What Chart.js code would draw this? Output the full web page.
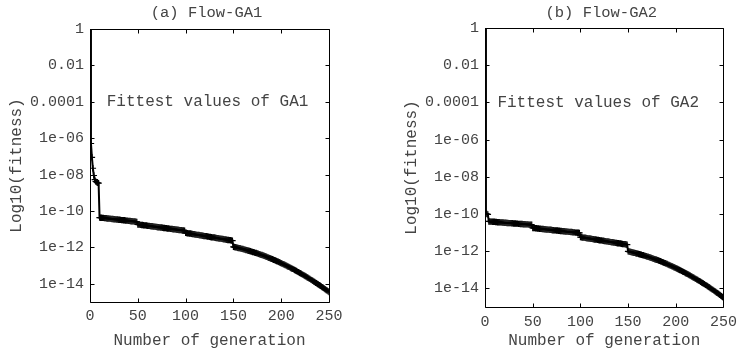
<!DOCTYPE html>
<html>
<head>
<meta charset="utf-8">
<script src="https://cdn.jsdelivr.net/npm/chart.js@4.4.1/dist/chart.umd.min.js"></script>
<style>
  html, body { margin: 0; padding: 0; background: #ffffff; width: 743px; height: 353px; overflow: hidden; }
  canvas { position: absolute; top: 0; }
  #chartA { left: 0px; }
  #chartB { left: 372px; }
</style>
</head>
<body>
<canvas id="chartA" width="372" height="353"></canvas>
<canvas id="chartB" width="371" height="353"></canvas>
<script>
// ---------------- DATA ----------------
const chartTitles = ['(a) Flow-GA1', '(b) Flow-GA2'];
const annotationTexts = ['Fittest values of GA1', 'Fittest values of GA2'];
const annotationAnchorGen = [17.5, 13];      // generation where the label starts
const annotationAnchorFitness = [1e-4, 1e-4];
const xAxisTitle = 'Number of generation';
const yAxisTitle = 'Log10(fitness)';
const xTickValues = [0, 50, 100, 150, 200, 250];
const xTickLabels = ['0', '50', '100', '150', '200', '250'];
const yTickValues = [1, 1e-2, 1e-4, 1e-6, 1e-8, 1e-10, 1e-12, 1e-14];
const yTickLabels = ['1', '0.01', '0.0001', '1e-06', '1e-08', '1e-10', '1e-12', '1e-14'];

// generation index 0..250
const generations = Array.from({ length: 251 }, (_, i) => i);

// log10 of fittest value per generation
const ga1Log10Fitness = [
  1, -6.29, -7.05, -7.65, -8.05, -8.28, -8.38, -8.42, -8.45, -8.47,
  -10.36, -10.37, -10.37, -10.38, -10.38, -10.39, -10.39, -10.40, -10.41, -10.41,
  -10.42, -10.42, -10.43, -10.44, -10.44, -10.45, -10.45, -10.46, -10.47, -10.47,
  -10.48, -10.48, -10.49, -10.50, -10.50, -10.51, -10.51, -10.52, -10.53, -10.53,
  -10.54, -10.54, -10.55, -10.56, -10.56, -10.57, -10.57, -10.58, -10.59, -10.60,
  -10.74, -10.75, -10.75, -10.76, -10.77, -10.77, -10.78, -10.79, -10.79, -10.80,
  -10.81, -10.82, -10.82, -10.83, -10.84, -10.84, -10.85, -10.86, -10.86, -10.87,
  -10.88, -10.89, -10.89, -10.90, -10.91, -10.91, -10.92, -10.93, -10.93, -10.94,
  -10.95, -10.96, -10.96, -10.97, -10.98, -10.98, -10.99, -11.00, -11.00, -11.01,
  -11.02, -11.03, -11.03, -11.04, -11.05, -11.05, -11.06, -11.07, -11.07, -11.08,
  -11.20, -11.21, -11.22, -11.23, -11.24, -11.24, -11.25, -11.26, -11.27, -11.28,
  -11.29, -11.30, -11.31, -11.31, -11.32, -11.33, -11.34, -11.35, -11.36, -11.37,
  -11.38, -11.38, -11.39, -11.40, -11.41, -11.42, -11.43, -11.44, -11.45, -11.45,
  -11.46, -11.47, -11.48, -11.49, -11.50, -11.51, -11.52, -11.52, -11.53, -11.54,
  -11.55, -11.56, -11.57, -11.58, -11.59, -11.59, -11.60, -11.61, -11.62, -11.63,
  -11.97, -11.98, -11.99, -12.00, -12.02, -12.03, -12.04, -12.05, -12.07, -12.08,
  -12.09, -12.11, -12.12, -12.14, -12.15, -12.17, -12.18, -12.20, -12.21, -12.23,
  -12.25, -12.26, -12.28, -12.30, -12.31, -12.33, -12.35, -12.37, -12.39, -12.41,
  -12.42, -12.44, -12.46, -12.48, -12.50, -12.52, -12.55, -12.57, -12.59, -12.61,
  -12.63, -12.65, -12.68, -12.70, -12.72, -12.75, -12.77, -12.79, -12.82, -12.84,
  -12.87, -12.89, -12.92, -12.94, -12.97, -12.99, -13.02, -13.05, -13.07, -13.10,
  -13.13, -13.16, -13.18, -13.21, -13.24, -13.27, -13.30, -13.33, -13.36, -13.39,
  -13.42, -13.45, -13.48, -13.51, -13.54, -13.57, -13.60, -13.64, -13.67, -13.70,
  -13.73, -13.77, -13.80, -13.83, -13.87, -13.90, -13.94, -13.97, -14.01, -14.04,
  -14.08, -14.11, -14.15, -14.19, -14.22, -14.26, -14.30, -14.34, -14.37, -14.41,
  -14.45
];

const ga2Log10Fitness = [
  1, -9.98, -10.00, -10.02, -10.40, -10.40, -10.41, -10.41, -10.42, -10.42,
  -10.42, -10.43, -10.43, -10.44, -10.44, -10.44, -10.45, -10.45, -10.46, -10.46,
  -10.47, -10.47, -10.47, -10.48, -10.48, -10.49, -10.49, -10.49, -10.50, -10.50,
  -10.51, -10.51, -10.51, -10.52, -10.52, -10.53, -10.53, -10.54, -10.54, -10.54,
  -10.55, -10.55, -10.55, -10.56, -10.56, -10.56, -10.57, -10.57, -10.57, -10.58,
  -10.75, -10.76, -10.76, -10.77, -10.77, -10.78, -10.78, -10.79, -10.79, -10.80,
  -10.81, -10.81, -10.82, -10.82, -10.83, -10.83, -10.84, -10.84, -10.85, -10.85,
  -10.86, -10.87, -10.87, -10.88, -10.88, -10.89, -10.89, -10.90, -10.90, -10.91,
  -10.91, -10.92, -10.93, -10.93, -10.94, -10.94, -10.95, -10.95, -10.96, -10.96,
  -10.97, -10.97, -10.98, -10.99, -10.99, -11.00, -11.00, -11.01, -11.01, -11.02,
  -11.24, -11.25, -11.26, -11.27, -11.27, -11.28, -11.29, -11.30, -11.31, -11.32,
  -11.32, -11.33, -11.34, -11.35, -11.36, -11.37, -11.37, -11.38, -11.39, -11.40,
  -11.41, -11.42, -11.42, -11.43, -11.44, -11.45, -11.46, -11.47, -11.47, -11.48,
  -11.49, -11.50, -11.51, -11.52, -11.52, -11.53, -11.54, -11.55, -11.56, -11.57,
  -11.57, -11.58, -11.59, -11.60, -11.61, -11.62, -11.62, -11.63, -11.64, -11.65,
  -12.01, -12.02, -12.03, -12.04, -12.06, -12.07, -12.08, -12.09, -12.11, -12.12,
  -12.13, -12.15, -12.16, -12.18, -12.19, -12.21, -12.22, -12.24, -12.25, -12.27,
  -12.29, -12.30, -12.32, -12.34, -12.35, -12.37, -12.39, -12.41, -12.43, -12.45,
  -12.46, -12.48, -12.50, -12.52, -12.54, -12.56, -12.59, -12.61, -12.63, -12.65,
  -12.67, -12.69, -12.72, -12.74, -12.76, -12.79, -12.81, -12.83, -12.86, -12.88,
  -12.91, -12.93, -12.96, -12.98, -13.01, -13.03, -13.06, -13.09, -13.11, -13.14,
  -13.17, -13.20, -13.22, -13.25, -13.28, -13.31, -13.34, -13.37, -13.40, -13.43,
  -13.46, -13.49, -13.52, -13.55, -13.58, -13.61, -13.64, -13.68, -13.71, -13.74,
  -13.77, -13.81, -13.84, -13.87, -13.91, -13.94, -13.98, -14.01, -14.05, -14.08,
  -14.12, -14.15, -14.19, -14.23, -14.26, -14.30, -14.34, -14.38, -14.42, -14.46,
  -14.50
];

// ---------------- RENDERING ----------------
const FONT = "'Liberation Mono', 'DejaVu Sans Mono', monospace";
const TEXT_COLOR = '#444444';

// frame with inward ticks on all four sides + title + annotation
const framePlugin = {
  id: 'gnuFrame',
  afterDatasetsDraw(chart, args, opts) {
    const { ctx, chartArea: a, scales } = chart;
    const L = Math.round(a.left) + 0.5, R = Math.round(a.right) + 0.5;
    const T = Math.round(a.top) + 0.5, B = Math.round(a.bottom) + 0.5;
    ctx.save();
    ctx.strokeStyle = '#000';
    ctx.lineWidth = 1;
    ctx.beginPath();
    ctx.rect(L, T, R - L, B - T);
    const tl = 4;
    scales.x.ticks.forEach(t => {
      const px = Math.round(scales.x.getPixelForValue(t.value)) + 0.5;
      ctx.moveTo(px, B); ctx.lineTo(px, B - tl);
      ctx.moveTo(px, T); ctx.lineTo(px, T + tl);
    });
    scales.y.ticks.forEach(t => {
      const py = Math.round(scales.y.getPixelForValue(t.value)) + 0.5;
      ctx.moveTo(L, py); ctx.lineTo(L + tl, py);
      ctx.moveTo(R, py); ctx.lineTo(R - tl, py);
    });
    ctx.stroke();
    ctx.restore();
  },
  afterDraw(chart, args, opts) {
    const { ctx, chartArea: a, scales } = chart;
    ctx.save();
    ctx.fillStyle = TEXT_COLOR;
    ctx.font = '15.5px ' + FONT;
    ctx.textAlign = 'center';
    ctx.textBaseline = 'middle';
    ctx.fillText(opts.title, (a.left + a.right) / 2 - 3, opts.titleY);
    ctx.font = '16px ' + FONT;
    ctx.textAlign = 'left';
    ctx.fillText(opts.note, scales.x.getPixelForValue(opts.noteX), scales.y.getPixelForValue(opts.noteY));
    ctx.restore();
  }
};

function makeChart(canvasId, series, idx, L) {
  const points = generations.map((g, i) => ({ x: g, y: Math.pow(10, series[i]) }));
  return new Chart(document.getElementById(canvasId), {
    type: 'line',
    data: {
      datasets: [{
        data: points,
        borderColor: '#000',
        borderWidth: 2,
        pointStyle: 'cross',
        pointRadius: 3.2,
        pointBorderWidth: 1.2,
        pointBorderColor: '#000',
        pointBackgroundColor: '#000',
        tension: 0,
        fill: false
      }]
    },
    plugins: [framePlugin],
    options: {
      responsive: false,
      animation: false,
      devicePixelRatio: 1,
      layout: { padding: { top: L.top, right: L.right, left: 0, bottom: 0 } },
      plugins: {
        legend: { display: false },
        tooltip: { enabled: false },
        gnuFrame: {
          title: chartTitles[idx], titleY: L.titleY,
          note: annotationTexts[idx], noteX: annotationAnchorGen[idx], noteY: annotationAnchorFitness[idx]
        }
      },
      scales: {
        x: {
          type: 'linear',
          min: 0, max: 250,
          afterBuildTicks: s => { s.ticks = xTickValues.map(v => ({ value: v })); },
          afterFit: s => { s.height = L.xHeight; },
          grid: { display: false, drawTicks: false },
          border: { display: false },
          ticks: {
            autoSkip: false, maxRotation: 0, padding: L.xPad,
            color: TEXT_COLOR, font: { family: FONT, size: 15 },
            callback: (v, i) => xTickLabels[i]
          },
          title: {
            display: true, text: xAxisTitle, color: TEXT_COLOR,
            font: { family: FONT, size: 16 }, padding: { top: 0, bottom: L.xTitlePad }
          }
        },
        y: {
          type: 'logarithmic',
          min: 1e-15, max: 1,
          afterBuildTicks: s => { s.ticks = yTickValues.map(v => ({ value: v })); },
          afterFit: s => { s.width = L.yWidth; },
          grid: { display: false, drawTicks: false },
          border: { display: false },
          ticks: {
            autoSkip: false, padding: 6,
            color: TEXT_COLOR, font: { family: FONT, size: 15 },
            callback: (v, i) => yTickLabels[i]
          },
          title: {
            display: true, text: yAxisTitle, color: TEXT_COLOR,
            font: { family: FONT, size: 16 }, padding: { top: L.yTitlePad, bottom: 0 }
          }
        }
      }
    }
  });
}

makeChart('chartA', ga1Log10Fitness, 0,
  { top: 29, right: 43, xHeight: 51, yWidth: 90, xPad: 5, xTitlePad: 3, yTitlePad: 7.5, titleY: 12.5 });
makeChart('chartB', ga2Log10Fitness, 1,
  { top: 28, right: 13, xHeight: 46, yWidth: 113, xPad: 6, xTitlePad: 3, yTitlePad: 30, titleY: 13 });
</script>
</body>
</html>
